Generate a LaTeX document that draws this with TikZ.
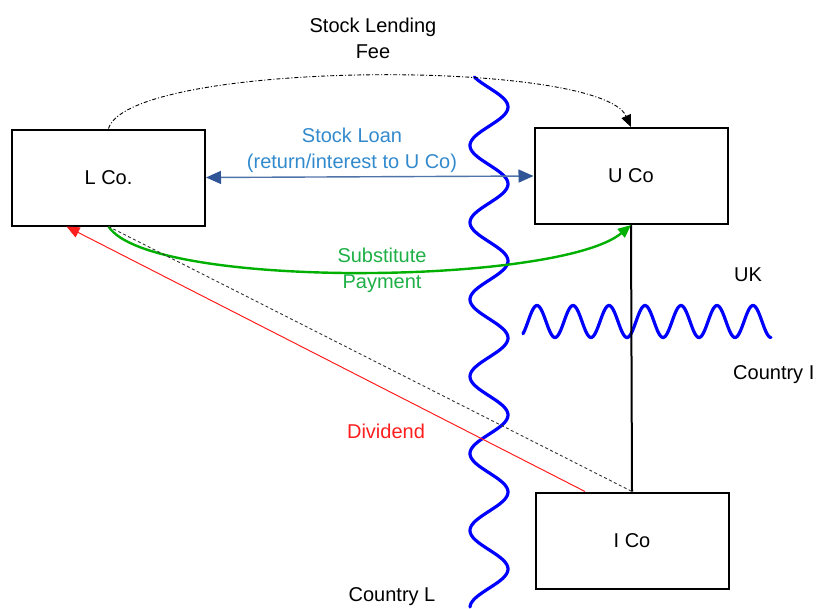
\documentclass[tikz,border=0pt]{standalone}
\usepackage{fontspec}
\setmainfont{Liberation Sans}
\usetikzlibrary{arrows.meta}
\definecolor{loanblue}{RGB}{50,138,205}
\definecolor{loanline}{RGB}{80,115,170}
\definecolor{loanhead}{RGB}{47,85,151}
\definecolor{paygreen}{RGB}{0,176,0}
\definecolor{paytext}{RGB}{30,176,70}
\definecolor{divred}{RGB}{255,30,30}
\definecolor{wave}{RGB}{0,0,255}
\tikzset{
  entity/.style={draw=black, line width=2pt, minimum width=193pt, minimum height=96pt, inner sep=0pt, font=\fontsize{20}{24}\selectfont},
  lbl/.style={inner sep=0pt, align=center, font=\fontsize{20}{26}\selectfont},
  border/.style={draw=wave, line width=3.2pt, line cap=round},
}
\begin{document}
\begin{tikzpicture}[x=1pt,y=-1pt]
\useasboundingbox (0,0) rectangle (819,608);
% entities
\node[entity] (L) at (108.5,177.5) {L Co.};
\node[entity] (U) at (631,176) {U Co};
\node[entity] (I) at (632,540.5) {I Co};
% borders
\draw[border] plot[domain=77:607, samples=300, smooth, variable=\t] ({489+19*cos((\t-107)*4.6753)}, {\t});
\draw[border] plot[domain=523:771, samples=250, smooth, variable=\t] ({\t}, {321.5-16*cos((\t-537)*10)});
% ownership line
\draw[line width=2pt] (U.south) -- (I.north);
% stock loan
\draw[loanline, line width=1.4pt, {Triangle[length=15pt,width=13pt,fill=loanhead,color=loanhead]}-{Triangle[length=15pt,width=13pt,fill=loanhead,color=loanhead]}] (L.east) -- (U.west);
\node[lbl, text=loanblue] (loanlbl) at (352,150) {Stock Loan\\(return/interest to U Co)};
% stock lending fee
\draw[line width=0.9pt, dash pattern=on 4pt off 2pt on 1pt off 2pt, -{Triangle[length=12pt,width=10pt]}] (L.north) .. controls (130,60) and (600,58) .. (U.north);
\node[lbl] (feelbl) at (373,38.5) {Stock Lending\\Fee};
% substitute payment
\draw[paygreen, line width=2.4pt, -{Triangle[length=13pt,width=11pt]}] (L.south) .. controls (150,290) and (560,285) .. (U.south);
\node[lbl, text=paytext] (paylbl) at (382,270) {Substitute\\Payment};
% dashed
\draw[line width=0.9pt, dash pattern=on 3pt off 2.5pt, black!80] (L.south) -- (I.north);
% dividend
\coordinate (divstart) at ([xshift=-47pt]I.north);
\coordinate (divend) at ([xshift=-42pt]L.south);
\draw[divred, line width=1pt, -{Triangle[length=13pt,width=11pt]}] (divstart) -- (divend);
\node[lbl, text=divred] (divlbl) at (386,431) {Dividend};
% country labels
\node[lbl] (uk) at (748,275) {UK};
\node[lbl, anchor=west] (ci) at (733,375) {Country I};
\node[lbl] (cl) at (392,597) {Country L};
\end{tikzpicture}
\end{document}
